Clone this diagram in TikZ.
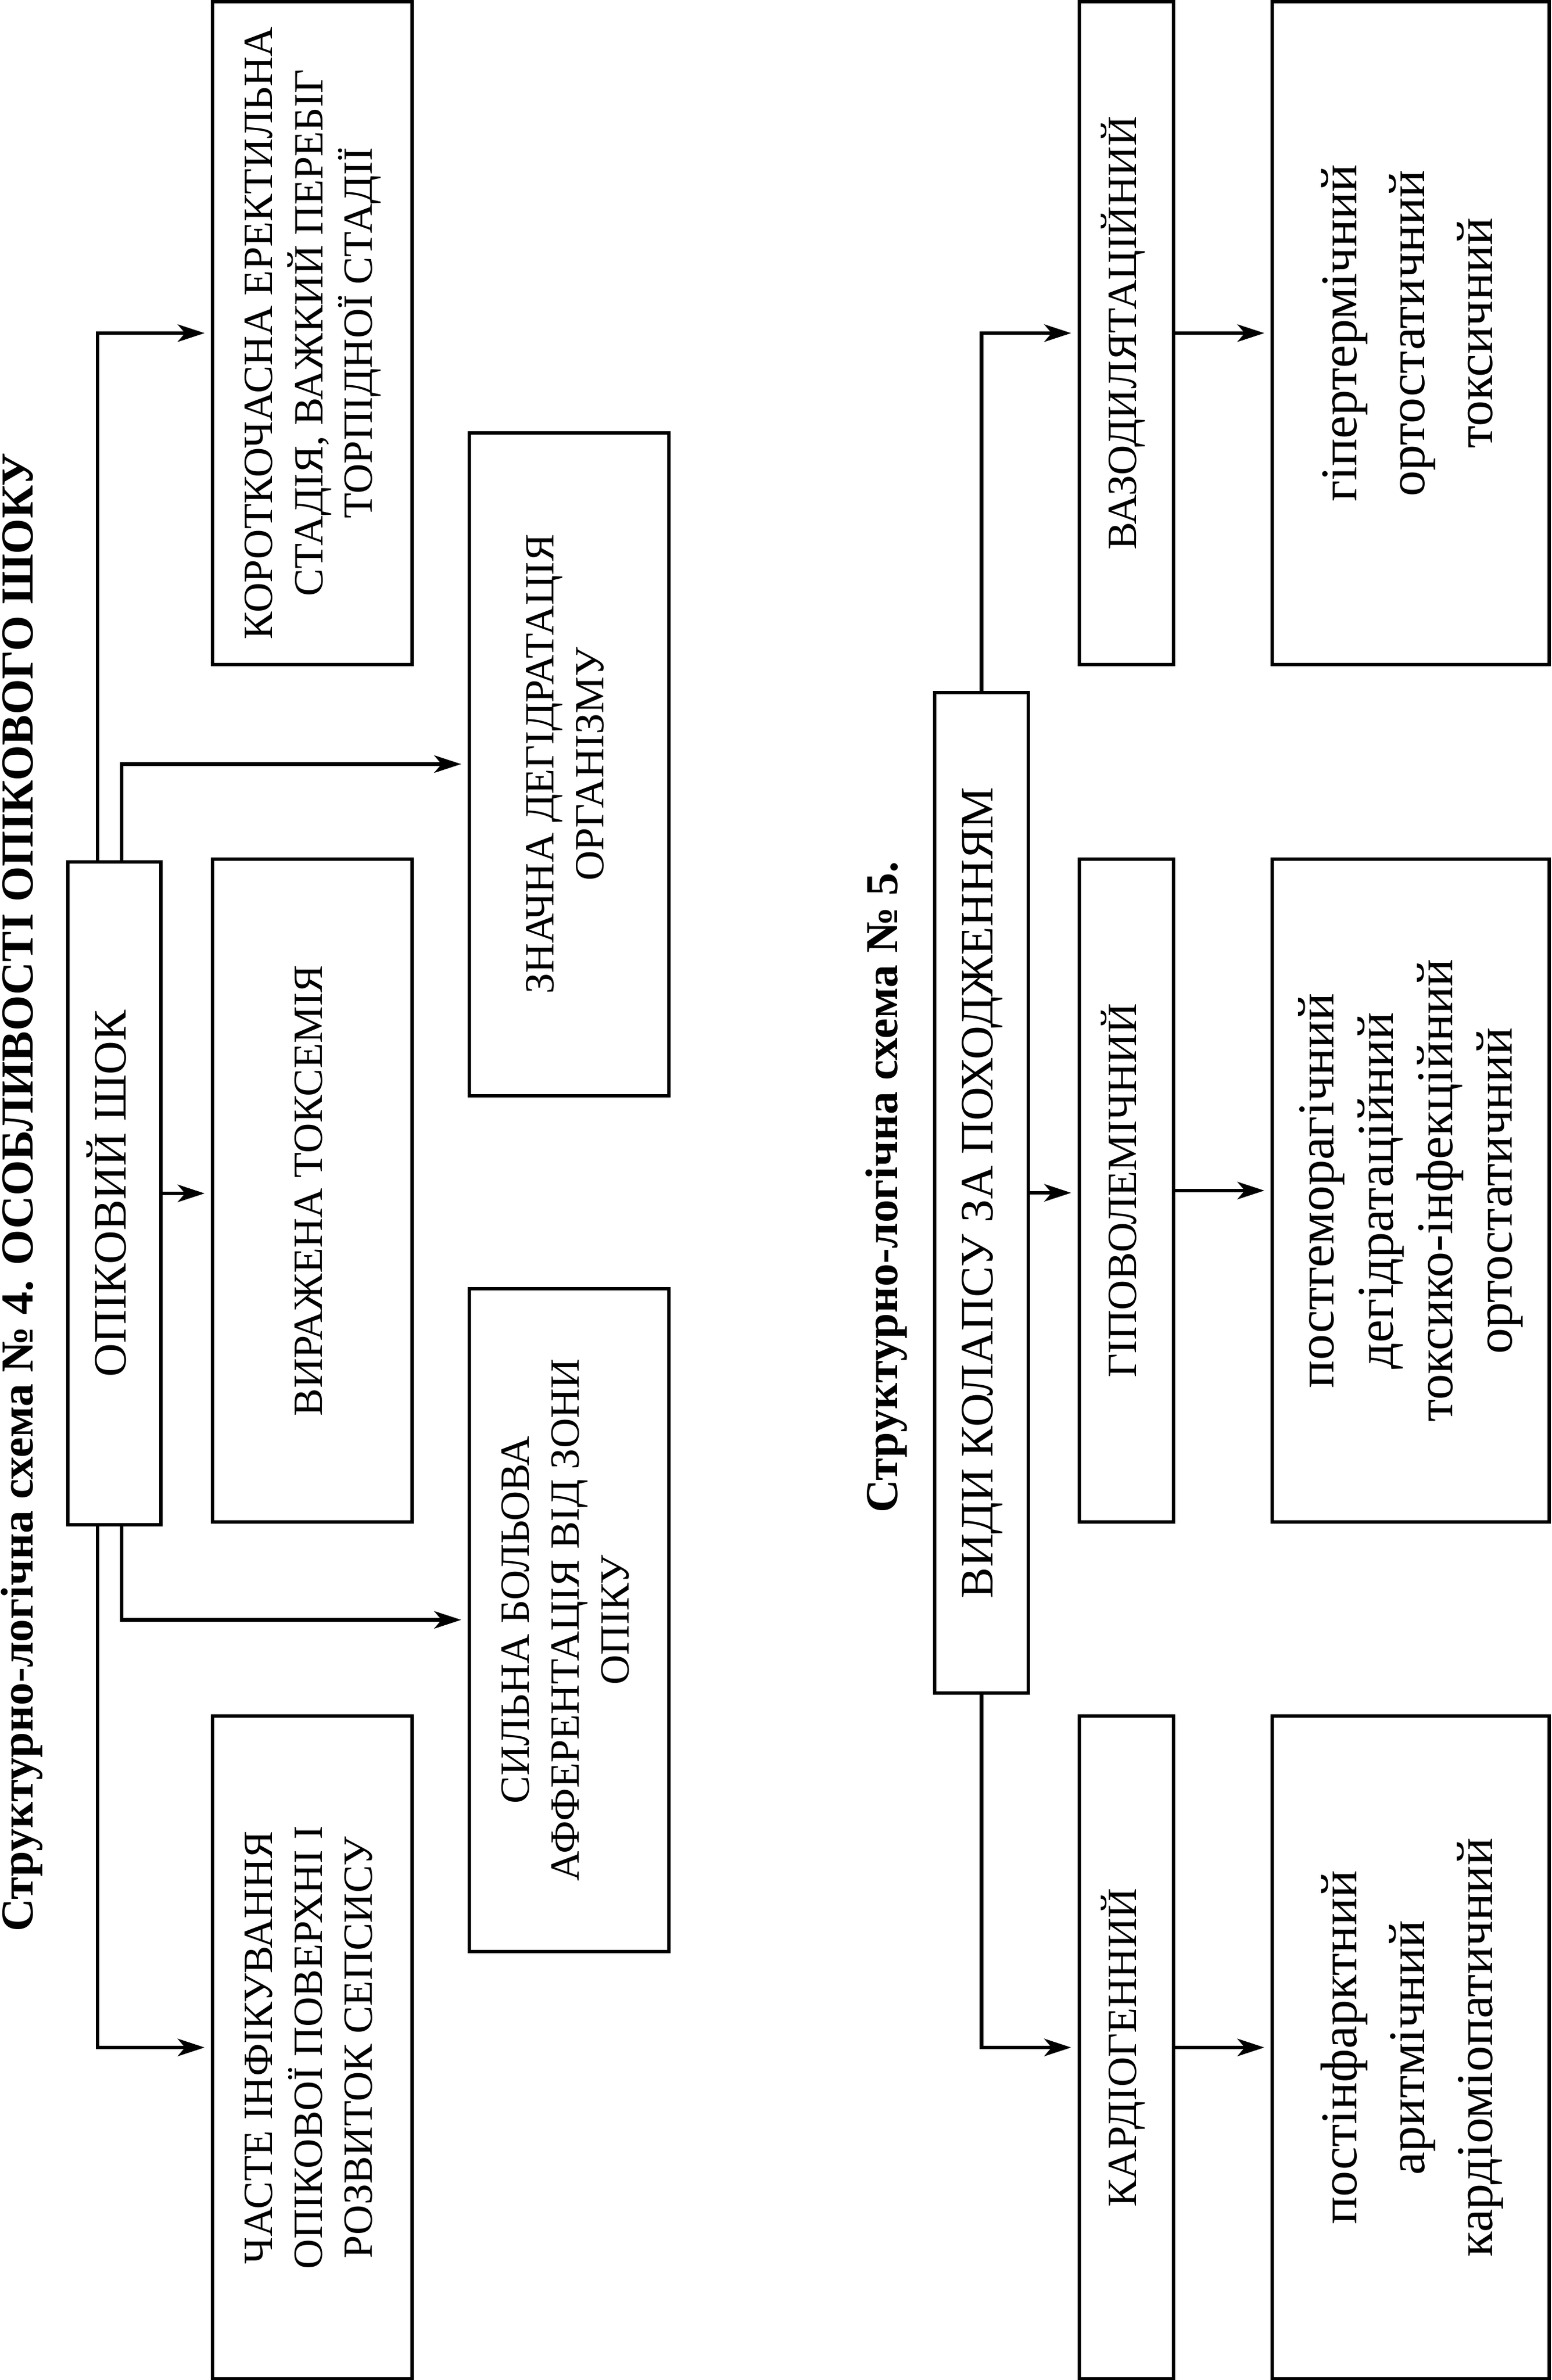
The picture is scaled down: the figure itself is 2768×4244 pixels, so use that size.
\documentclass[tikz,border=0pt]{standalone}
\usepackage{fontspec}
\setmainfont{Liberation Serif}
\usetikzlibrary{arrows.meta}
\newcommand{\capsA}{\fontsize{18.5}{22.2}\selectfont}
\newcommand{\capsB}{\fontsize{20.7}{24.8}\selectfont}
\newcommand{\lowA}{\fontsize{23}{30.25}\selectfont}
\newcommand{\lowB}{\fontsize{23}{26.5}\selectfont}
\newcommand{\rtext}[2]{\rotatebox{90}{#1\begin{tabular}{@{}c@{}}#2\end{tabular}}}
\tikzset{
  box/.style={draw, line width=1.5pt, inner sep=0pt, outer sep=0pt},
  wide/.style={box, minimum width=89pt, minimum height=295.5pt},
  narrow/.style={box, minimum width=42pt, minimum height=295.5pt},
  wider/.style={box, minimum width=123.5pt, minimum height=295.5pt},
  conn/.style={line width=1.6pt, shorten >=3.5pt, -{Stealth[length=12pt, width=7.75pt, inset=3.25pt]}},
  ttl/.style={rotate=90, anchor=base, font=\bfseries\fontsize{20.4}{24}\selectfont, inner sep=0pt},
}
\begin{document}
\begin{tikzpicture}[x=0.25pt, y=-0.25pt]
\useasboundingbox (0,0) rectangle (2768,4244);
% titles
\node[ttl] (t4) at (58,2126) {Структурно-логічна схема № 4. ОСОБЛИВОСТІ ОПІКОВОГО ШОКУ};
\node[ttl] (t5) at (1600,2117) {Структурно-логічна схема № 5.};
% scheme 4
\node[box, minimum width=41.5pt, minimum height=295.5pt] (s) at (204,2128) {\rtext{\capsB}{ОПІКОВИЙ ШОК}};
\node[wide] (k1) at (557,594) {\rtext{\capsA}{КОРОТКОЧАСНА ЕРЕКТИЛЬНА\\СТАДІЯ, ВАЖКИЙ ПЕРЕБІГ\\ТОРПІДНОЇ СТАДІЇ}};
\node[wide] (k2) at (557,2123) {\rtext{\capsA}{ВИРАЖЕНА ТОКСЕМІЯ}};
\node[wide] (k3) at (557,3651) {\rtext{\capsA}{ЧАСТЕ ІНФІКУВАННЯ\\ОПІКОВОЇ ПОВЕРХНІ І\\РОЗВИТОК СЕПСИСУ}};
\node[wide] (m1) at (1014.5,1362.5) {\rtext{\capsA}{ЗНАЧНА ДЕГІДРАТАЦІЯ\\ОРГАНІЗМУ}};
\node[wide] (m2) at (1014.5,2888.5) {\rtext{\capsA}{СИЛЬНА БОЛЬОВА\\АФФЕРЕНТАЦІЯ ВІД ЗОНИ\\ОПІКУ}};
\draw[conn] ([xshift=-7.5pt]s.north) |- (k1.west);
\draw[conn] ([xshift=3.25pt]s.north) |- (m1.west);
\draw[conn] (s.east) -- (s.east -| k2.west);
\draw[conn] ([xshift=3.25pt]s.south) |- (m2.west);
\draw[conn] ([xshift=-7.5pt]s.south) |- (k3.west);
% scheme 5
\node[box, minimum width=41.75pt, minimum height=446pt] (v) at (1750.5,2127) {\rtext{\capsB}{ВИДИ КОЛАПСУ ЗА ПОХОДЖЕННЯМ}};
\node[narrow] (r1) at (2008.5,594) {\rtext{\capsA}{ВАЗОДИЛЯТАЦІЙНИЙ}};
\node[narrow] (r2) at (2008.5,2123) {\rtext{\capsA}{ГІПОВОЛЕМІЧНИЙ}};
\node[narrow] (r3) at (2008.5,3651) {\rtext{\capsA}{КАРДІОГЕННИЙ}};
\node[wider] (q1) at (2516,594) {\rtext{\lowA}{гіпертермічний\\ортостатичний\\токсичний}};
\node[wider] (q2) at (2516,2123) {\rtext{\lowB}{постгеморагічний\\дегідратаційний\\токсико-інфекційний\\ортостатичний}};
\node[wider] (q3) at (2516,3651) {\rtext{\lowA}{постінфарктний\\аритмічний\\кардіоміопатичний}};
\draw[conn] (v.north) |- (r1.west);
\draw[conn] (v.east) -- (v.east -| r2.west);
\draw[conn] (v.south) |- (r3.west);
\draw[conn] (r1.east) -- (q1.west);
\draw[conn] (r2.east) -- (q2.west);
\draw[conn] (r3.east) -- (q3.west);
\end{tikzpicture}
\end{document}
